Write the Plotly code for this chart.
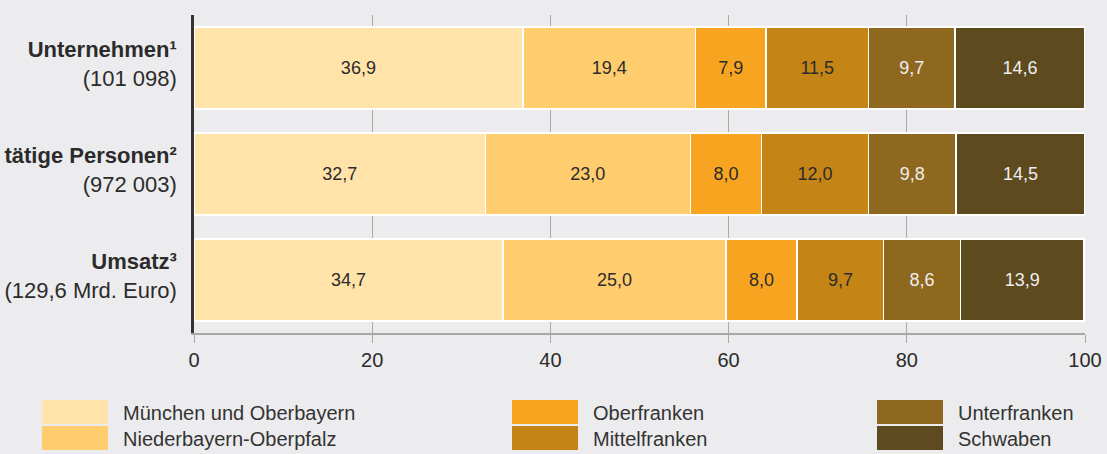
import plotly.graph_objects as go

categories = ["<b>Unternehmen¹</b><br>(101 098)",
              "<b>tätige Personen²</b><br>(972 003)",
              "<b>Umsatz³</b><br>(129,6 Mrd. Euro)"]
regions = ["München und Oberbayern", "Niederbayern-Oberpfalz", "Oberfranken",
           "Mittelfranken", "Unterfranken", "Schwaben"]
values = {
    "München und Oberbayern": [36.9, 32.7, 34.7],
    "Niederbayern-Oberpfalz": [19.4, 23.0, 25.0],
    "Oberfranken": [7.9, 8.0, 8.0],
    "Mittelfranken": [11.5, 12.0, 9.7],
    "Unterfranken": [9.7, 9.8, 8.6],
    "Schwaben": [14.6, 14.5, 13.9],
}
colors = ["#FFE3A9", "#FFCC6E", "#F7A520", "#C58516", "#8F6820", "#5E4A1F"]
text_colors = ["#2b2b2b", "#2b2b2b", "#2b2b2b", "#2b2b2b", "#EEEEEE", "#EEEEEE"]
x_ticks = [0, 20, 40, 60, 80, 100]

BG = "#ECECEE"
FONT = "Liberation Sans, Arial, Helvetica"
L, R, T, B = 194, 22, 15, 121
PW, PH = 1107 - L - R, 454 - T - B

fig = go.Figure()
for r, c, tc in zip(regions, colors, text_colors):
    v = values[r]
    fig.add_trace(go.Bar(
        y=categories, x=v, orientation="h", name=r,
        marker=dict(color=c, line=dict(color="white", width=1.5)),
        width=0.77,
        text=[f"{a:.1f}".replace(".", ",") for a in v],
        textposition="inside", insidetextanchor="middle",
        textfont=dict(color=tc, size=18, family=FONT),
        showlegend=False, hoverinfo="skip",
    ))

# custom legend (3 columns x 2 rows)
legend_cols = [42, 42, 512, 512, 877, 877]
legend_rows = [0, 1, 0, 1, 0, 1]
sw_w, sw_h = 66, 24
for x0, row, r, c in zip(legend_cols, legend_rows, regions, colors):
    y0 = 400 + row * 26
    fig.add_shape(type="rect", xref="paper", yref="paper",
                  x0=(x0 - L) / PW, x1=(x0 + sw_w - L) / PW,
                  y0=(454 - B - y0) / PH, y1=(454 - B - y0 - sw_h) / PH,
                  fillcolor=c, line=dict(width=0))
    fig.add_annotation(xref="paper", yref="paper",
                       x=(x0 + 79 - L) / PW, y=(454 - B - y0 - sw_h / 2 - 1) / PH,
                       text=r, showarrow=False, xanchor="left", yanchor="middle",
                       font=dict(size=20, color="#333333", family=FONT))

fig.update_layout(
    barmode="stack", bargap=0.23,
    width=1107, height=454,
    margin=dict(l=L, r=R, t=T, b=B, autoexpand=False),
    paper_bgcolor=BG, plot_bgcolor=BG,
    font=dict(family=FONT, color="#2b2b2b"),
    xaxis=dict(range=[0, 100], tickvals=x_ticks, ticktext=[str(t) for t in x_ticks],
               showgrid=True, gridcolor="#A8A8A8", gridwidth=1,
               ticks="outside", ticklen=8, tickcolor="#A8A8A8",
               showline=True, linecolor="#A8A8A8", linewidth=1.5,
               zeroline=False, layer="below traces",
               tickfont=dict(size=20, family=FONT, color="#2b2b2b")),
    yaxis=dict(autorange="reversed", showline=True, linecolor="#333333", linewidth=2.5,
               ticks="", ticklabelstandoff=10, ticklabelshift=4,
               tickfont=dict(size=22, family=FONT, color="#2b2b2b")),
)
fig.write_html("out.html", config={"displayModeBar": False},
               post_script="document.body.style.margin='0';"
                           "document.body.style.background='#ECECEE';")
